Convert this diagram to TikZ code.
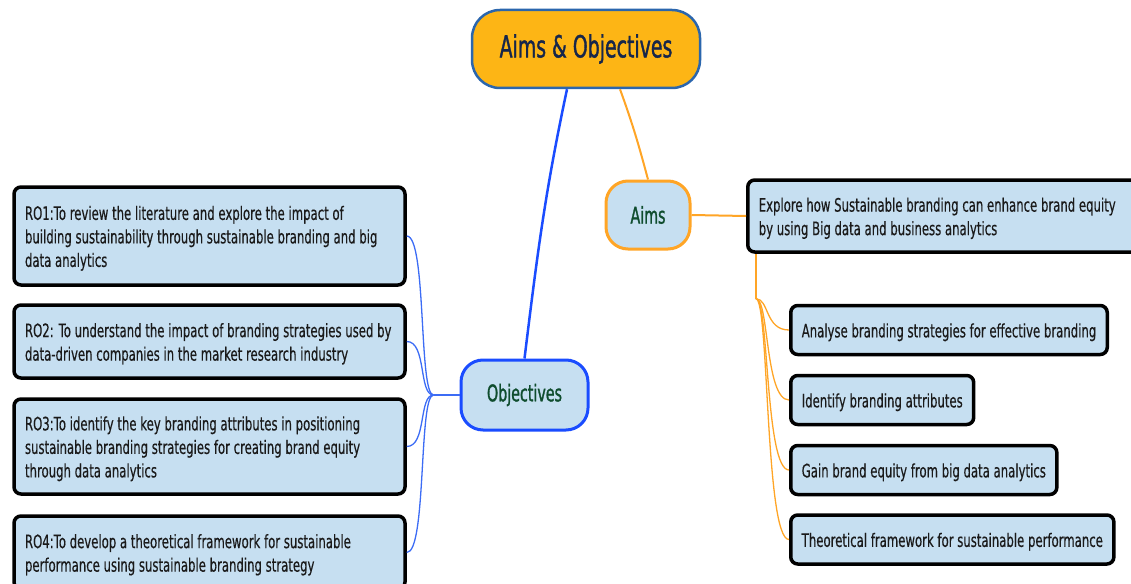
\documentclass[tikz,border=0pt]{standalone}
\usepackage{fontspec}
\setmainfont{DejaVu Sans}[FakeStretch=0.632, FakeBold=0.4]
\newfontfamily\headfont{DejaVu Sans}[FakeStretch=0.62, FakeBold=1.2]
\definecolor{gold}{HTML}{FDB515}
\definecolor{goldedge}{HTML}{2B66AD}
\definecolor{navy}{HTML}{16264A}
\definecolor{boxfill}{HTML}{C6DFF1}
\definecolor{darkgreen}{HTML}{0F4D2E}
\definecolor{orangeline}{HTML}{FFA526}
\definecolor{blueline}{HTML}{1A4CFF}
\definecolor{thinblue}{HTML}{3C6CF5}
\definecolor{bodytext}{HTML}{1A1A1A}
\begin{document}
\begin{tikzpicture}[x=1pt,y=-1pt,
  mainnode/.style={draw=goldedge, line width=2.5pt, fill=gold, rounded corners=28pt,
    minimum width=228pt, minimum height=78pt, text=navy,
    font={\headfont\fontsize{30.5}{34}\selectfont}},
  branch/.style={line width=3pt, fill=boxfill, rounded corners=22pt, text=darkgreen,
    font={\headfont\fontsize{23}{26}\selectfont}},
  box/.style={draw=black, line width=3.5pt, fill=boxfill, rounded corners=7pt,
    inner xsep=11pt, text=bodytext, align=flush left,
    font={\fontsize{18.5}{23.5}\selectfont},
    execute at begin node={\rule{0pt}{18.6pt}}},
  leftbox/.style={box, text width=369pt},
  rightbox/.style={box, anchor=west, minimum height=49pt, inner ysep=2pt},
  orangelink/.style={draw=orangeline, line width=2pt},
  fanorange/.style={draw=orangeline, line width=1.3pt},
  fanblue/.style={draw=thinblue, line width=1.3pt},
]
\useasboundingbox (0,0) rectangle (1131,583);
\clip (0,0) rectangle (1131,583);

% central topic
\node[mainnode] (main) at (586,49) {Aims \& Objectives};

% main branches
\node[branch, draw=orangeline, minimum width=84pt, minimum height=68pt] (aims) at (648,215) {Aims};
\node[branch, draw=blueline, minimum width=127pt, minimum height=70pt] (obj) at (524.5,395) {Objectives};

% aim statement and its sub-points
\node[box, anchor=west, text width=420pt, minimum height=72pt] (explore) at (746,216)
  {Explore how Sustainable branding can enhance brand equity\\by using Big data and business analytics};
\node[rightbox] (a1) at (789,330) {Analyse branding strategies for effective branding};
\node[rightbox] (a2) at (789,400) {Identify branding attributes};
\node[rightbox] (a3) at (789,470) {Gain brand equity from big data analytics};
\node[rightbox] (a4) at (789,539.5) {Theoretical framework for sustainable performance};

% research objectives
\node[leftbox, minimum height=98pt] (ro1) at (209.5,236)
  {RO1:To review the literature and explore the impact of\\building sustainability through sustainable branding and big\\data analytics};
\node[leftbox, minimum height=73pt] (ro2) at (209.5,341.5)
  {RO2: To understand the impact of branding strategies used by\\data-driven companies in the market research industry};
\node[leftbox, minimum height=95pt] (ro3) at (209.5,446.5)
  {RO3:To identify the key branding attributes in positioning\\sustainable branding strategies for creating brand equity\\through data analytics};
\node[leftbox, minimum height=73pt] (ro4) at (209.5,552.5)
  {RO4:To develop a theoretical framework for sustainable\\performance using sustainable branding strategy};

% links from the central topic
\draw[draw=blueline, line width=2.5pt] ([xshift=-19pt]main.south) to[out=-102,in=83] (obj.north);
\draw[orangelink] ([xshift=34pt]main.south) to[out=-70,in=105] (aims.north);
\draw[orangelink] (aims.east) -- (explore.west);

% fan of the aim sub-points
\coordinate (rhub) at ([xshift=10pt,yshift=-45pt]explore.south west);
\draw[fanorange] ([xshift=10pt]explore.south west) -- (rhub);
\foreach \n in {a1,a2,a3,a4}
  \draw[fanorange] (rhub) .. controls +(13,0) and +(-24,0) .. (\n.west);

% fan of the objectives
\coordinate (lhub) at ([xshift=-26pt]obj.west);
\draw[fanblue] (obj.west) -- (lhub);
\foreach \n in {ro1,ro2,ro3,ro4}
  \draw[fanblue] (\n.east) .. controls +(20,0) and +(-15,0) .. (lhub);
\end{tikzpicture}
\end{document}
